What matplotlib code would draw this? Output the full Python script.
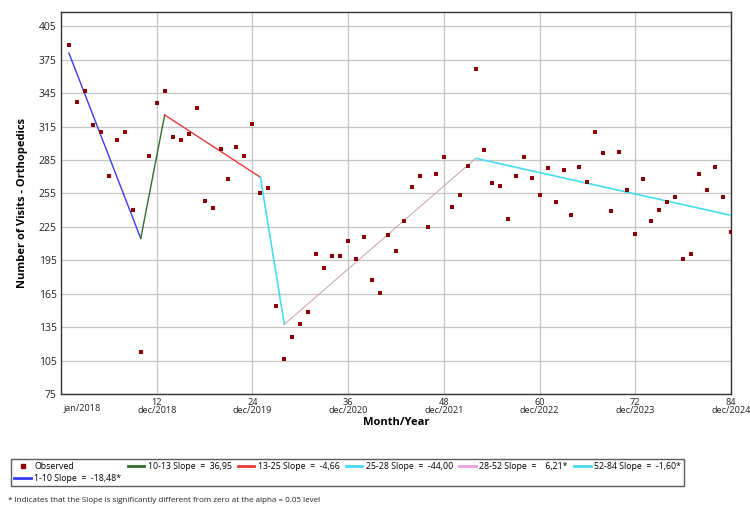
import matplotlib.pyplot as plt
from matplotlib.lines import Line2D

plt.rcParams['font.family'] = ['Open Sans', 'DejaVu Sans']

# observed monthly visits (month 1 = jan/2018)
months = list(range(1, 85))
visits = [388, 337, 347, 316, 310, 271, 303, 310, 240, 113,
          289, 336, 347, 306, 303, 308, 332, 248, 242, 295,
          268, 297, 289, 317, 255, 260, 154, 106, 126, 138,
          149, 201, 188, 199, 199, 212, 196, 216, 177, 166,
          218, 203, 230, 261, 271, 225, 272, 288, 243, 254,
          280, 367, 294, 264, 262, 232, 271, 288, 269, 254,
          278, 247, 276, 236, 279, 265, 310, 291, 239, 292,
          258, 219, 268, 230, 240, 247, 252, 196, 201, 272,
          258, 279, 252, 220]

# joinpoint segments: breakpoints and fitted values at the joints
joints = [1, 10, 13, 25, 28, 52, 84]
joint_fit = [380.9, 214.6, 325.4, 269.5, 137.5, 286.5, 235.3]
seg_labels = ["1-10 Slope  =  -18,48*", "10-13 Slope  =  36,95",
              "13-25 Slope  =  -4,66", "25-28 Slope  =  -44,00",
              "28-52 Slope  =    6,21*", "52-84 Slope  =  -1,60*"]
seg_colors = ["#3a3af0", "#2f6e2f", "#e83a3a", "#48dcec", "#e9a0de", "#48dcec"]
line_colors = ["#3a3af0", "#2f6e2f", "#e83a3a", "#48dcec", "#c8a0a8", "#48dcec"]
line_widths = [1.0, 1.0, 1.0, 1.2, 0.7, 1.2]

tick_months = [12, 24, 36, 48, 60, 72, 84]
tick_labels = ["12\ndec/2018", "24\ndec/2019", "36\ndec/2020", "48\ndec/2021",
               "60\ndec/2022", "72\ndec/2023", "84\ndec/2024"]
y_ticks = [75, 105, 135, 165, 195, 225, 255, 285, 315, 345, 375, 405]

fig = plt.figure(figsize=(7.5, 5.13), dpi=100)
ax = fig.add_axes([0.0813, 0.232, 0.8934, 0.7446])

for i in range(len(joints) - 1):
    ax.plot(joints[i:i + 2], joint_fit[i:i + 2], color=line_colors[i],
            lw=line_widths[i], zorder=3)

ax.scatter(months, visits, marker='s', s=11, color='#8b0000', zorder=4,
           linewidths=0)

ax.set_xlim(0, 84)
ax.set_ylim(75, 417.8)
ax.set_xticks(tick_months)
ax.set_xticklabels(tick_labels, fontsize=6.6, linespacing=0.9)
ax.set_yticks(y_ticks)
ax.set_yticklabels([str(v) for v in y_ticks], fontsize=7.5)
ax.tick_params(length=0, pad=3, colors='#222222')
ax.grid(True, color='#c4c4c4', lw=0.9)
ax.set_axisbelow(True)
for sp in ax.spines.values():
    sp.set_color('#333333')
    sp.set_linewidth(1.0)

ax.text(2.7, -0.027, "jan/2018", transform=ax.get_xaxis_transform(),
        ha='center', va='top', fontsize=6.6, color='#222222')

ax.set_ylabel("Number of Visits - Orthopedics", fontsize=8, fontweight='bold',
              labelpad=8)
ax.set_xlabel("Month/Year", fontsize=8, fontweight='bold', labelpad=1)

handles = [Line2D([], [], marker='s', ls='none', color='#8b0000', ms=3)]
for c, lab in zip(seg_colors, seg_labels):
    handles.append(Line2D([], [], color=c, lw=2))
labels = ["Observed"] + seg_labels
leg = fig.legend(handles, labels, ncol=6, loc='upper left',
                 bbox_to_anchor=(0.009, 0.113), fontsize=6.3, frameon=True,
                 fancybox=False, edgecolor='#333333', handlelength=1.9,
                 columnspacing=0.7, handletextpad=0.4, borderpad=0.35,
                 labelspacing=0.25)
leg.get_frame().set_linewidth(1.0)

fig.text(0.011, 0.025, "* Indicates that the Slope is significantly different from zero at the alpha = 0.05 level",
         fontsize=5.8, ha='left', va='center', color='#222222')

fig.savefig("out.png", dpi=100)
